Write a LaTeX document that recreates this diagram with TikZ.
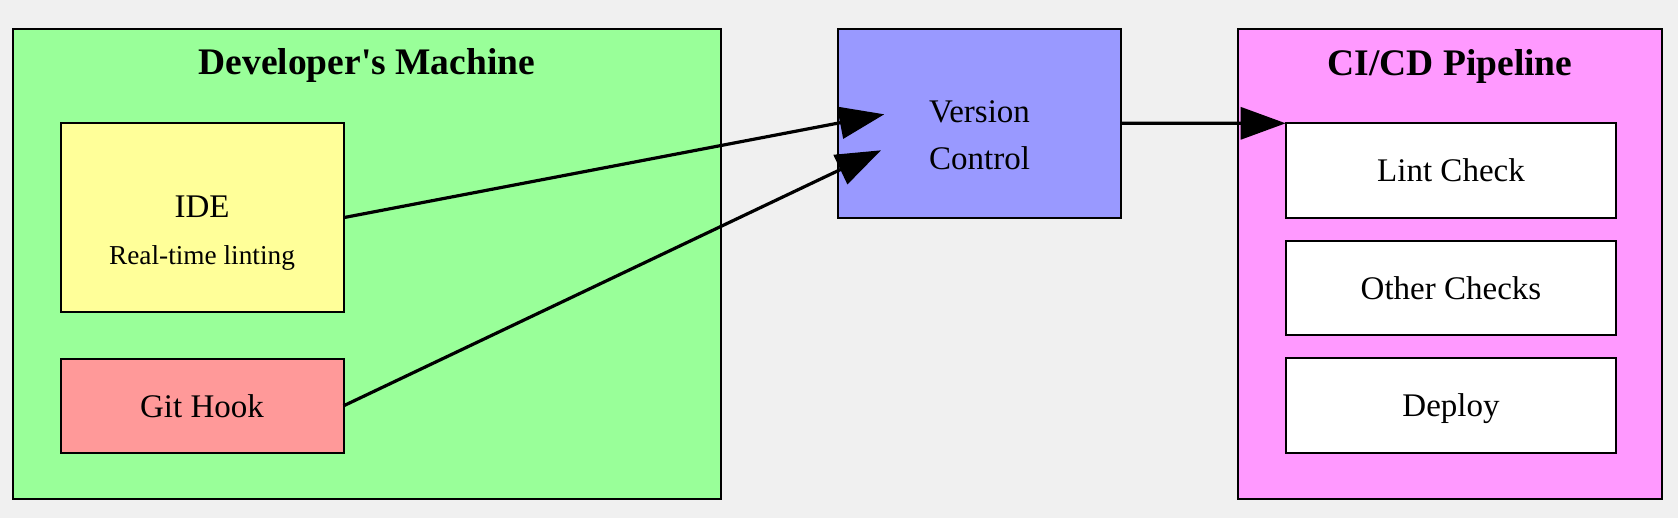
\documentclass[tikz,border=0pt]{standalone}
\usepackage{fontspec}
\setmainfont{Liberation Serif}
\usetikzlibrary{arrows.meta}
\definecolor{bgcol}{HTML}{F0F0F0}
\definecolor{devgreen}{HTML}{99FF99}
\definecolor{ideyellow}{HTML}{FFFF99}
\definecolor{gitred}{HTML}{FF9999}
\definecolor{vcblue}{HTML}{9999FF}
\definecolor{cimagenta}{HTML}{FF99FF}
\begin{document}
\begin{tikzpicture}[x=0.5pt,y=-0.5pt,
  box/.style={draw=black, line width=1pt, inner sep=0pt, outer sep=0pt,
    font=\fontsize{16.5}{18}\selectfont, text height=11.3pt, text depth=0pt},
  title/.style={anchor=base, inner sep=0pt, font=\fontsize{18.75}{20}\selectfont\bfseries},
  lbl/.style={anchor=base, inner sep=0pt, font=\fontsize{16.5}{18}\selectfont},
  small/.style={anchor=base, inner sep=0pt, font=\fontsize{13.65}{15}\selectfont},
  edge/.style={line width=1.6pt, -{Triangle[length=22.5pt,width=16pt]}}]
\fill[bgcol] (0,0) rectangle (1678,518);
\useasboundingbox (0,0) rectangle (1678,518);
% clusters
\node[box, fill=devgreen, minimum width=353.75pt, minimum height=235pt] (dev) at (366.75,264) {};
\node[box, fill=cimagenta, minimum width=212pt, minimum height=235pt] (ci) at (1450,264) {};
\node[title] (devtitle) at (366.75,75) {Developer\textquotesingle s Machine};
\node[title] (cititle) at (1450,75.7) {CI/CD Pipeline};
% developer nodes
\node[box, fill=ideyellow, minimum width=141.5pt, minimum height=94.35pt] (ide) at (202,217.65) {};
\node[lbl] (idetext) at (202,217.3) {IDE};
\node[small] (idesub) at (202,265) {Real-time linting};
\node[box, fill=gitred, minimum width=141.5pt, minimum height=47.15pt] (git) at (202,405.85) {Git Hook};
% version control
\node[box, fill=vcblue, minimum width=141.5pt, minimum height=94.35pt] (vc) at (979.5,123.35) {};
\node[lbl] (vctext1) at (979.5,122.7) {Version};
\node[lbl] (vctext2) at (979.5,170) {Control};
% pipeline nodes
\node[box, fill=white, minimum width=165.3pt, minimum height=47.2pt] (lint) at (1451,170.5) {Lint Check};
\node[box, fill=white, minimum width=165.3pt, minimum height=47.2pt] (other) at (1451,287.85) {Other Checks};
\node[box, fill=white, minimum width=165.3pt, minimum height=47.2pt] (deploy) at (1451,405.5) {Deploy};
% edges
\coordinate (t1) at (884.3,114.3);
\coordinate (t2) at (881,150.3);
\draw[edge] (ide.east) -- (t1);
\draw[edge] (git.east) -- (t2);
\draw[edge] (vc.east) -- (lint.north west);
\end{tikzpicture}
\end{document}
